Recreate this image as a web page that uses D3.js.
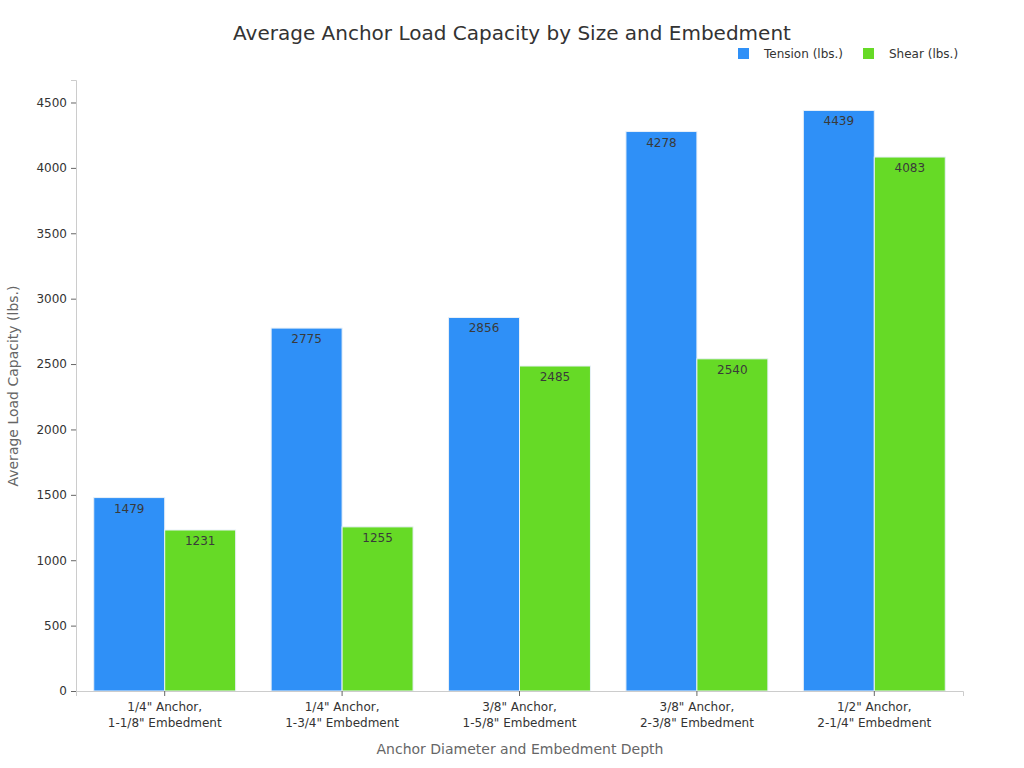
<!DOCTYPE html>
<html>
<head>
<meta charset="utf-8">
<script src="https://cdn.jsdelivr.net/npm/d3@7"></script>
<style>
  body { margin: 0; background: #fff; font-family: "DejaVu Sans", sans-serif; }
  svg text { font-family: "DejaVu Sans", sans-serif; }
</style>
</head>
<body>
<div id="chart"></div>
<script>
const categories = [
  ["1/4\" Anchor,", "1-1/8\" Embedment"],
  ["1/4\" Anchor,", "1-3/4\" Embedment"],
  ["3/8\" Anchor,", "1-5/8\" Embedment"],
  ["3/8\" Anchor,", "2-3/8\" Embedment"],
  ["1/2\" Anchor,", "2-1/4\" Embedment"]
];
const seriesNames = ["Tension (lbs.)", "Shear (lbs.)"];
const tension = [1479, 2775, 2856, 4278, 4439];
const shear = [1231, 1255, 2485, 2540, 4083];
const yTicks = [0, 500, 1000, 1500, 2000, 2500, 3000, 3500, 4000, 4500];

const colors = ["#2f90f7", "#66da26"];
const width = 1024, height = 768;
const margin = { top: 80, right: 61, bottom: 77, left: 76 };

const svg = d3.select("#chart").append("svg")
  .attr("width", width).attr("height", height);

const keys = categories.map((c, i) => i);
const x = d3.scaleBand().domain(keys)
  .range([margin.left, width - margin.right])
  .paddingInner(0.2).paddingOuter(0.1);
const x1 = d3.scaleBand().domain([0, 1]).range([0, x.bandwidth()]);
const y = d3.scaleLinear().domain([0, 4672])
  .range([height - margin.bottom, margin.top]);

const series = [tension, shear];

// bars
series.forEach((vals, s) => {
  const g = svg.append("g");
  g.selectAll("rect").data(vals).join("rect")
    .attr("x", (d, i) => x(i) + x1(s))
    .attr("y", d => y(d))
    .attr("width", x1.bandwidth())
    .attr("height", d => y(0) - y(d))
    .attr("fill", colors[s])
    .attr("stroke", "#e8f0f8")
    .attr("stroke-width", 1);
  g.selectAll("text").data(vals).join("text")
    .attr("x", (d, i) => x(i) + x1(s) + x1.bandwidth() / 2)
    .attr("y", d => y(d) + 15)
    .attr("text-anchor", "middle")
    .style("font-size", "12px")
    .attr("fill", "#3a3a3a")
    .text(d => d);
});

// y axis
const yAxis = svg.append("g")
  .attr("transform", `translate(${margin.left},0)`)
  .call(d3.axisLeft(y).tickValues(yTicks).tickFormat(d3.format("d")).tickSize(5).tickPadding(4));
yAxis.select(".domain").attr("stroke", "#ccc");
yAxis.selectAll(".tick line").attr("stroke", "#666");
yAxis.selectAll("text").style("font-size", "12px").attr("fill", "#333");

// x axis
const xAxis = svg.append("g")
  .attr("transform", `translate(0,${height - margin.bottom})`)
  .call(d3.axisBottom(x).tickSize(5).tickFormat(""));
xAxis.select(".domain").attr("stroke", "#ccc");
xAxis.selectAll(".tick line").attr("stroke", "#666");
xAxis.selectAll(".tick").each(function(d) {
  const t = d3.select(this).append("text")
    .attr("text-anchor", "middle")
    .attr("fill", "#333")
    .style("font-size", "12px");
  categories[d].forEach((line, j) => {
    t.append("tspan").attr("x", 0).attr("y", 20 + j * 16).text(line);
  });
});

// title
svg.append("text")
  .attr("x", 512).attr("y", 40)
  .attr("text-anchor", "middle")
  .style("font-size", "20px")
  .attr("fill", "#333")
  .text("Average Anchor Load Capacity by Size and Embedment");

// axis titles
svg.append("text")
  .attr("x", 520).attr("y", 754)
  .attr("text-anchor", "middle")
  .style("font-size", "14px")
  .attr("fill", "#666")
  .text("Anchor Diameter and Embedment Depth");
svg.append("text")
  .attr("transform", "translate(18,386) rotate(-90)")
  .attr("text-anchor", "middle")
  .style("font-size", "14px")
  .attr("fill", "#666")
  .text("Average Load Capacity (lbs.)");

// legend
const legendX = [738, 863];
const legend = svg.append("g");
seriesNames.forEach((name, i) => {
  legend.append("rect")
    .attr("x", legendX[i]).attr("y", 48)
    .attr("width", 11).attr("height", 11)
    .attr("fill", colors[i]);
  legend.append("text")
    .attr("x", legendX[i] + 26).attr("y", 58)
    .style("font-size", "12px")
    .attr("fill", "#333")
    .text(name);
});
</script>
</body>
</html>
